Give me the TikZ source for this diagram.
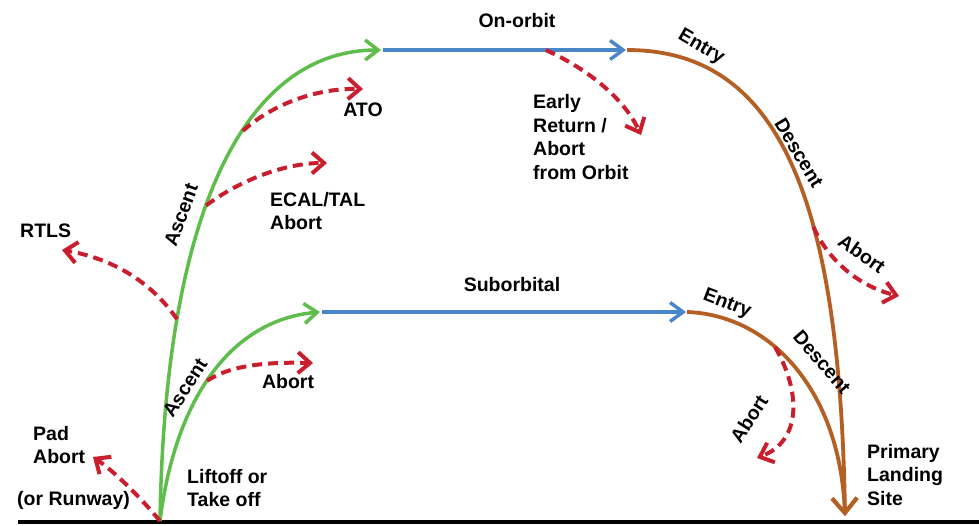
\documentclass[tikz,border=0pt]{standalone}
\usepackage{fontspec}
\setmainfont{Liberation Sans}
\usetikzlibrary{arrows.meta}
\definecolor{cgreen}{RGB}{95,190,75}
\definecolor{cblue}{RGB}{75,135,200}
\definecolor{cbrown}{RGB}{180,95,35}
\definecolor{cred}{RGB}{200,30,45}
\begin{document}
\begin{tikzpicture}[x=1pt,y=-1pt,
  lbl/.style={font=\fontsize{19.5}{23.5}\selectfont\bfseries, inner sep=0pt, align=left, text=black},
  gpath/.style={draw=cgreen, line width=3.5pt, -{Straight Barb[length=13pt,width=20pt]}},
  bpath/.style={draw=cblue, line width=3.5pt, -{Straight Barb[length=13pt,width=19pt]}},
  brpath/.style={draw=cbrown, line width=3.8pt, -{Straight Barb[length=15pt,width=25pt]}},
  rpath/.style={draw=cred, line width=4pt, dash pattern=on 10pt off 6pt, -{Straight Barb[length=12pt,width=21pt]}}
]
\useasboundingbox (0,0) rectangle (979,525);
\fill[white] (0,0) rectangle (979,525);

% named points
\coordinate (gl) at (18,522);
\coordinate (gr) at (979,522);
\coordinate (launch) at (160,521);
\coordinate (ascTop) at (381,50);
\coordinate (orbS) at (383,50);
\coordinate (orbE) at (626,50);
\coordinate (entS) at (627,50);
\coordinate (land) at (845,516);
\coordinate (subTop) at (320,312);
\coordinate (subS) at (322,312);
\coordinate (subE) at (686,312);
\coordinate (sentS) at (687,312);

% ground
\draw[line width=4pt, black] (gl) -- (gr);

% big trajectory
\draw[gpath] (launch) .. controls (165,200) and (250,50) .. (ascTop)
  coordinate[pos=0.58] (atoS) coordinate[pos=0.42] (ecalS) coordinate[pos=0.24] (rtlsS);
\draw[bpath] (orbS) -- (orbE) coordinate[pos=0.67] (erS);
\draw[brpath] (entS) .. controls (780,50) and (840,200) .. (land)
  coordinate[pos=0.62] (babS);

% suborbital trajectory
\draw[gpath] (launch) .. controls (175,400) and (230,320) .. (subTop)
  coordinate[pos=0.47] (sabS);
\draw[bpath] (subS) -- (subE);
\draw[brpath] (sentS) .. controls (770,315) and (840,390) .. (land)
  coordinate[pos=0.39] (dabS);

% abort end points
\coordinate (atoE) at (363,89);
\coordinate (ecalE) at (327,163);
\coordinate (rtlsE) at (62,250);
\coordinate (sabE) at (313,363);
\coordinate (padE) at (93,457);
\coordinate (erE) at (641,135);
\coordinate (babE) at (899,296);
\coordinate (dabE) at (757,458);

% aborts
\draw[rpath] (atoS) .. controls (275,102) and (320,88) .. (atoE);
\draw[rpath] (ecalS) .. controls (240,180) and (285,163) .. (ecalE);
\draw[rpath] (rtlsS) .. controls (150,280) and (110,258) .. (rtlsE);
\draw[rpath] (sabS) .. controls (232,364) and (272,362) .. (sabE);
\draw[rpath] (launch) .. controls (140,497) and (115,472) .. (padE);
\draw[rpath] (erS) .. controls (590,70) and (625,100) .. (erE);
\draw[rpath] (babS) .. controls (827,258) and (857,286) .. (babE);
\draw[rpath] (dabS) .. controls (800,390) and (803,440) .. (dabE);

% labels
\node[lbl] (lOn) at (517,21) {On-orbit};
\node[lbl] (lSub) at (512,285) {Suborbital};
\node[lbl] (lAto) at (363,110) {ATO};
\node[lbl, anchor=west] (lEcal) at (270,211) {ECAL/TAL\\Abort};
\node[lbl, anchor=west] (lEr) at (533,137) {Early\\Return /\\Abort\\from Orbit};
\node[lbl, anchor=west] (lRtls) at (20,231) {RTLS};
\node[lbl, anchor=west] (lPad) at (33,445) {Pad\\Abort};
\node[lbl, anchor=west] (lRun) at (17,500) {(or Runway)};
\node[lbl, anchor=west] (lLift) at (187,488) {Liftoff or\\Take off};
\node[lbl] (lSab) at (288,382) {Abort};
\node[lbl, anchor=west] (lPls) at (867,475) {Primary\\Landing\\Site};

\node[lbl, rotate=70] (lAsc1) at (181,215) {Ascent};
\node[lbl, rotate=57] (lAsc2) at (185,388) {Ascent};
\node[lbl, rotate=-30] (lEnt1) at (701,47) {Entry};
\node[lbl, rotate=-59] (lDes1) at (799,153) {Descent};
\node[lbl, rotate=-35] (lBab) at (862,254) {Abort};
\node[lbl, rotate=-21] (lEnt2) at (727,304) {Entry};
\node[lbl, rotate=-49] (lDes2) at (822,362) {Descent};
\node[lbl, rotate=57] (lDab) at (749,419) {Abort};
\end{tikzpicture}
\end{document}
